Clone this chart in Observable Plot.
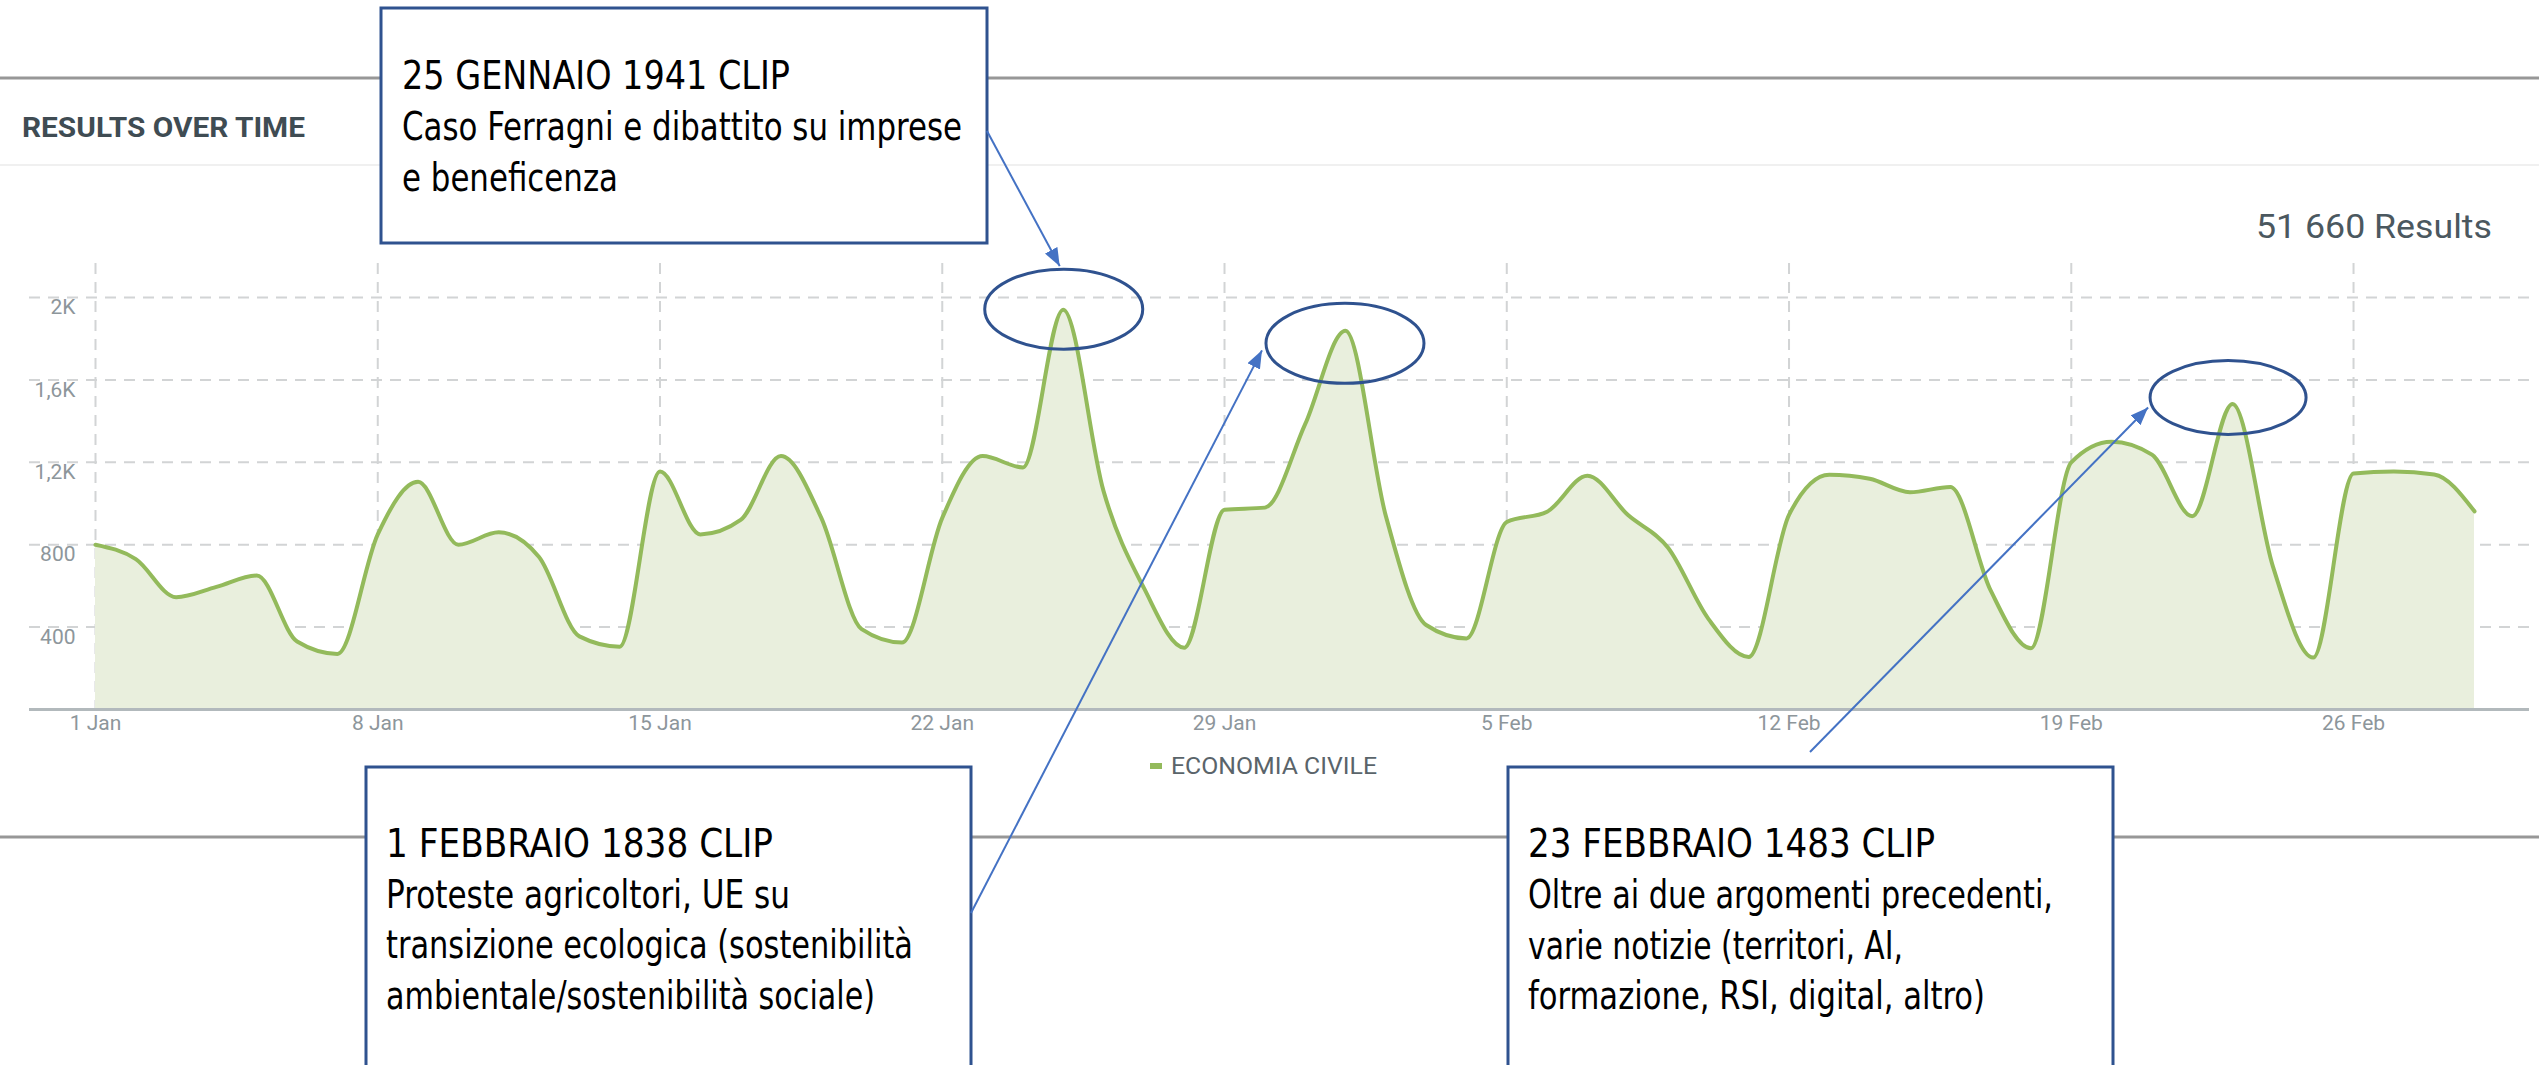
<!DOCTYPE html>
<html><head><meta charset="utf-8">
<script src="https://cdn.jsdelivr.net/npm/d3@7"></script>
<script src="https://cdn.jsdelivr.net/npm/@observablehq/plot@0.6"></script>
<style>
html,body{margin:0;padding:0;background:#fff;}
#wrap{position:relative;width:2539px;height:1065px;overflow:hidden;background:#fff;}
#wrap > svg{position:absolute;left:0;top:0;}
</style></head><body><div id="wrap"></div>
<script>
// ---------- DATA ----------
const startDate = "2024-01-01";
const endDate = "2024-02-29";
const values = [
  800, 730, 545, 595, 650, 330, 270,
  850, 1105, 800, 860, 740, 355, 305,
  1155, 850, 920, 1230, 930, 390, 325,
  930, 1230, 1175, 1941, 1060, 590, 300,
  970, 980, 1385, 1838, 940, 410, 345,
  910, 960, 1135, 945, 785, 440, 255,
  945, 1140, 1120, 1055, 1080, 578, 297,
  1200, 1300, 1237, 938, 1483, 695, 252,
  1146, 1155, 1141, 962
];
const seriesName = "ECONOMIA CIVILE";
const yTicks = [400, 800, 1200, 1600, 2000];
const yTickLabels = ["400", "800", "1,2K", "1,6K", "2K"];
const xTickDates = ["2024-01-01","2024-01-08","2024-01-15","2024-01-22","2024-01-29","2024-02-05","2024-02-12","2024-02-19","2024-02-26"];
const xTickLabels = ["1 Jan","8 Jan","15 Jan","22 Jan","29 Jan","5 Feb","12 Feb","19 Feb","26 Feb"];
const totalLabel = "51 660 Results";
const panelTitle = "RESULTS OVER TIME";
const annDates = ["2024-01-25", "2024-02-01", "2024-02-23"];
const annTitles = ["25 GENNAIO 1941 CLIP", "1 FEBBRAIO 1838 CLIP", "23 FEBBRAIO 1483 CLIP"];
const annTexts = [
  ["Caso Ferragni e dibattito su imprese", "e beneficenza"],
  ["Proteste agricoltori, UE su", "transizione ecologica (sostenibilità", "ambientale/sostenibilità sociale)"],
  ["Oltre ai due argomenti precedenti,", "varie notizie (territori, AI,", "formazione, RSI, digital, altro)"]
];

// ---------- STYLE / LAYOUT ----------
const W = 2539, H = 1065;
const LINE = "#93ba5b", AREA = "#e9efdd", GRID = "#d2d4d5", AXIS = "#8d969b";
const BOX = "#2f528f", ARROW = "#4472c4";
const NARROW = "'Liberation Sans Narrow','Arial Narrow','DejaVu Sans Condensed',sans-serif";

const dates = d3.utcDays(new Date(startDate), d3.utcDay.offset(new Date(endDate), 1));
const data = dates.map((d, i) => ({date: d, value: values[i]}));
const xTicks = xTickDates.map(s => new Date(s));
const xLab = new Map(xTicks.map((d, i) => [+d, xTickLabels[i]]));
const yLab = new Map(yTicks.map((d, i) => [d, yTickLabels[i]]));

const chart = Plot.plot({
  width: W, height: H,
  marginTop: 263, marginBottom: 356, marginLeft: 29, marginRight: 10,
  style: {fontFamily: "Roboto, sans-serif", fontSize: "21px", background: "transparent", overflow: "visible"},
  x: {type: "utc", domain: [dates[0], dates[dates.length - 1]], insetLeft: 66, insetRight: 55},
  y: {domain: [0, 2165]},
  marks: [
    Plot.gridY(yTicks, {stroke: GRID, strokeOpacity: 1, strokeWidth: 2, strokeDasharray: "11,8"}),
    Plot.gridX(xTicks, {stroke: GRID, strokeOpacity: 1, strokeWidth: 2, strokeDasharray: "11,8"}),
    Plot.areaY(data, {x: "date", y: "value", curve: "monotone-x", fill: AREA}),
    Plot.lineY(data, {x: "date", y: "value", curve: "monotone-x", stroke: LINE, strokeWidth: 4}),
    Plot.ruleY([0], {stroke: "#b2b9bc", strokeWidth: 3}),
    Plot.axisY(yTicks, {tickSize: 0, tickPadding: 0, dx: 46, dy: 10, textAnchor: "end", tickFormat: d => yLab.get(d), color: AXIS, fontSize: 21, label: null}),
    Plot.axisX(xTicks, {tickSize: 0, tickPadding: 6, tickFormat: d => xLab.get(+d), color: AXIS, fontSize: 21, label: null})
  ]
});

const wrap = d3.select("#wrap");
wrap.node().append(chart);
const xs = chart.scale("x"), ys = chart.scale("y");

const ov = wrap.append("svg").attr("width", W).attr("height", H).attr("viewBox", `0 0 ${W} ${H}`);
const defs = ov.append("defs");
defs.append("marker").attr("id", "ah").attr("markerUnits", "userSpaceOnUse")
  .attr("markerWidth", 20).attr("markerHeight", 16).attr("refX", 18).attr("refY", 7)
  .attr("orient", "auto")
  .append("path").attr("d", "M0,0 L18,7 L0,14 Z").attr("fill", ARROW);

// layout rules
ov.append("line").attr("x1", 0).attr("x2", W).attr("y1", 78).attr("y2", 78).attr("stroke", "#979797").attr("stroke-width", 3);
ov.append("line").attr("x1", 0).attr("x2", W).attr("y1", 165).attr("y2", 165).attr("stroke", "#f0f0f0").attr("stroke-width", 2);
ov.append("line").attr("x1", 0).attr("x2", W).attr("y1", 837).attr("y2", 837).attr("stroke", "#979797").attr("stroke-width", 3);

// header texts
ov.append("text").attr("x", 22).attr("y", 137).attr("font-family", "Roboto, sans-serif").attr("font-weight", 700)
  .attr("font-size", 28).attr("fill", "#3f4c53").attr("textLength", 283).attr("lengthAdjust", "spacingAndGlyphs").text(panelTitle);
ov.append("text").attr("x", 2492).attr("y", 238).attr("text-anchor", "end").attr("font-family", "Roboto, sans-serif")
  .attr("font-size", 34).attr("fill", "#4b585f").attr("textLength", 236).attr("lengthAdjust", "spacingAndGlyphs").text(totalLabel);

// legend
ov.append("rect").attr("x", 1150).attr("y", 763).attr("width", 12).attr("height", 6).attr("fill", LINE);
ov.append("text").attr("x", 1171).attr("y", 774).attr("font-family", "Roboto, sans-serif").attr("font-size", 23)
  .attr("fill", "#5a646a").attr("textLength", 206).attr("lengthAdjust", "spacingAndGlyphs").text(seriesName);

// annotation boxes
const boxes = [
  {x: 381, y: 8, w: 606, h: 235, tx: 402, base: [89, 140, 191], len: [388, 560, 216]},
  {x: 366, y: 767, w: 605, h: 320, tx: 386, base: [857, 908, 958, 1009], len: [387, 404, 527, 489]},
  {x: 1508, y: 767, w: 605, h: 320, tx: 1528, base: [857, 908, 959, 1009], len: [407, 525, 375, 457]}
];
boxes.forEach((b, k) => {
  ov.append("rect").attr("x", b.x).attr("y", b.y).attr("width", b.w).attr("height", b.h)
    .attr("fill", "#fff").attr("stroke", BOX).attr("stroke-width", 3);
  const lines = [annTitles[k], ...annTexts[k]];
  lines.forEach((t, j) => {
    ov.append("text").attr("x", b.tx).attr("y", b.base[j]).attr("font-family", NARROW).attr("font-size", 39)
      .attr("fill", "#000").attr("textLength", b.len[j]).attr("lengthAdjust", "spacingAndGlyphs").text(t);
  });
});

// ellipses around peaks (positioned with the chart's scales)
const ell = annDates.map((s, k) => {
  const d = new Date(s);
  const v = values[dates.findIndex(e => +e === +d)];
  const off = [{dx: 1, dy: 0, rx: 79, ry: 40}, {dx: 0, dy: 13, rx: 79, ry: 40}, {dx: -4, dy: -6, rx: 78, ry: 37}][k];
  return {cx: xs.apply(d) + off.dx, cy: ys.apply(v) + off.dy, rx: off.rx, ry: off.ry};
});
ell.forEach(e => {
  ov.append("ellipse").attr("cx", e.cx).attr("cy", e.cy).attr("rx", e.rx).attr("ry", e.ry)
    .attr("fill", "none").attr("stroke", BOX).attr("stroke-width", 3);
});

// arrows from boxes to ellipses
const arrows = [
  {x1: 987, y1: 131, x2: ell[0].cx - 4, y2: ell[0].cy - ell[0].ry - 3},
  {x1: 971, y1: 913, x2: ell[1].cx - ell[1].rx - 4, y2: ell[1].cy + 7},
  {x1: 1810, y1: 752, x2: ell[2].cx - ell[2].rx - 2, y2: ell[2].cy + 10}
];
arrows.forEach(a => {
  ov.append("line").attr("x1", a.x1).attr("y1", a.y1).attr("x2", a.x2).attr("y2", a.y2)
    .attr("stroke", ARROW).attr("stroke-width", 2).attr("marker-end", "url(#ah)");
});
</script></body></html>
